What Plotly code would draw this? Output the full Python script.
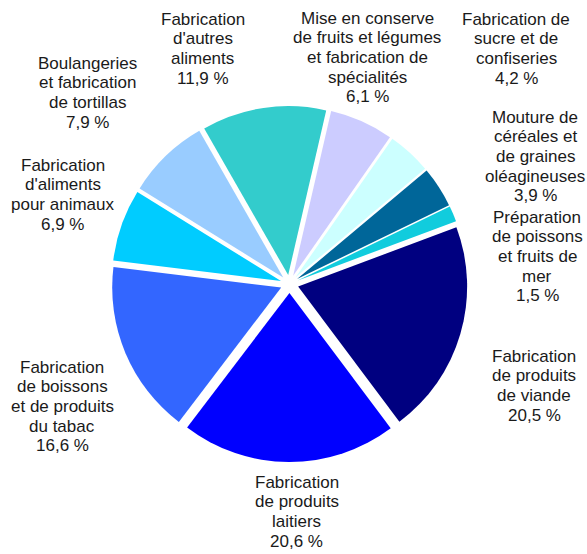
import plotly.graph_objects as go

labels = [
    "Mise en conserve<br>de fruits et légumes<br>et fabrication de<br>spécialités",
    "Fabrication de<br>sucre et de<br>confiseries",
    "Mouture de<br>céréales et<br>de graines<br>oléagineuses",
    "Préparation<br>de poissons<br>et fruits de<br>mer",
    "Fabrication<br>de produits<br>de viande",
    "Fabrication<br>de produits<br>laitiers",
    "Fabrication<br>de boissons<br>et de produits<br>du tabac",
    "Fabrication<br>d'aliments<br>pour animaux",
    "Boulangeries<br>et fabrication<br>de tortillas",
    "Fabrication<br>d'autres<br>aliments",
]
values = [6.1, 4.2, 3.9, 1.5, 20.5, 20.6, 16.6, 6.9, 7.9, 11.9]
colors = ["#CCCCFF", "#CCFFFF", "#006699", "#11CCDD", "#000080",
          "#0000FF", "#3366FF", "#00CCFF", "#99CCFF", "#33CCCC"]

# layout only: label x centre and first-line baseline (page pixels)
label_pos = [(367, 24), (516, 25), (535, 123), (537, 223), (534, 362),
             (297, 488), (62, 373), (62.5, 171), (87.5, 69), (202.5, 25)]
LINE_GAP = 19.7
FONT_SIZE = 17

W, H = 587, 554
cx, cy, R = 289.5, 284, 169
PULL = 9 / R
half = R * (1 + PULL)

fig = go.Figure(go.Pie(
    labels=[l.replace("<br>", " ") for l in labels],
    values=values,
    sort=False,
    direction="clockwise",
    rotation=13,
    pull=PULL,
    marker=dict(colors=colors, line=dict(width=0)),
    textinfo="none",
    hoverinfo="label+percent",
    showlegend=False,
    domain=dict(x=[(cx - half) / W, (cx + half) / W],
                y=[(H - cy - half) / H, (H - cy + half) / H]),
))

for lab, v, (px, py) in zip(labels, values, label_pos):
    lines = lab.split("<br>") + [f"{v:.1f}".replace(".", ",") + " %"]
    for i, line in enumerate(lines):
        base = py + i * LINE_GAP
        mid = base - 0.3465 * FONT_SIZE
        fig.add_annotation(x=px / W, y=1 - mid / H, xref="paper", yref="paper",
                           text=line, showarrow=False, xanchor="center", yanchor="middle",
                           align="center", borderpad=0,
                           font=dict(family="Liberation Sans, Arial, sans-serif",
                                     size=FONT_SIZE, color="#1a1a1a"))

fig.update_layout(width=W, height=H, margin=dict(l=0, r=0, t=0, b=0),
                  paper_bgcolor="white", plot_bgcolor="white")
fig.write_html("out.html", config={"displayModeBar": False},
               post_script="document.body.style.margin='0';document.body.style.overflow='hidden';")
